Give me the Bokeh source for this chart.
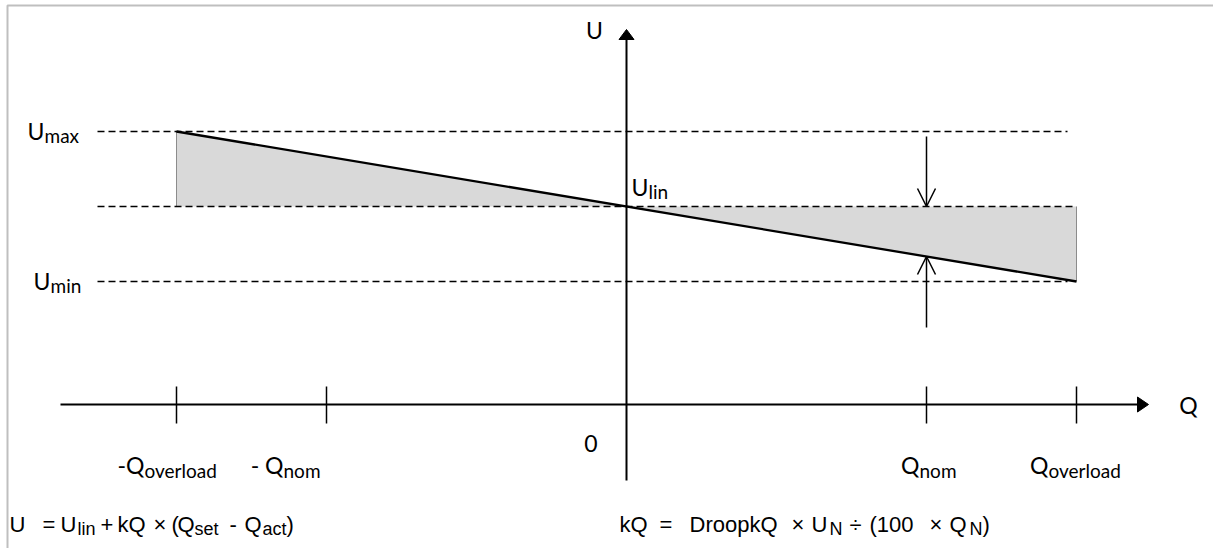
from bokeh.plotting import figure
from bokeh.models import Range1d, Arrow, OpenHead, ColumnDataSource
from bokeh.embed import file_html
from bokeh.resources import INLINE
from bokeh.core.properties import value

# ---------------- data ----------------
q_ticks = [-1.5, -1.0, 0.0, 1.0, 1.5]            # -Q_overload, -Q_nom, 0, Q_nom, Q_overload
q_tick_main = ["-Q", "- Q", "0", "Q", "Q"]
q_tick_sub = ["overload", "nom", "", "nom", "overload"]
u_levels = [1.1, 1.0, 0.9]                       # U_max, U_lin, U_min
u_names = ["max", "lin", "min"]
q_nom = 1.0
q_overload = 1.5
u_max, u_lin, u_min = 1.1, 1.0, 0.9
droop_q = [-q_overload, q_overload]
droop_u = [u_max, u_min]

formula1 = [("U", ""), ("=", ""), ("U", ""), ("lin", "sub"), ("+", ""), ("kQ", ""), ("×", ""),
            ("(", ""), ("Q", ""), ("set", "sub"), ("-", ""), ("Q", ""), ("act", "sub"), (")", "")]
formula2 = [("kQ", ""), ("=", ""), ("DroopkQ", ""), ("×", ""), ("U", ""), ("N", "sub"), ("÷", ""),
            ("(100", ""), ("×", ""), ("Q", ""), ("N", "sub"), (")", "")]

# ---------------- layout ----------------
W, H = 1213, 548
Q0_PX, U0_PX = 626, 206      # pixel of q = 0 and u = u_lin
SQ, SU = 300.0, 750.0        # pixels per data unit
TEXT_SHIFT = 10              # empirical baseline correction (px, upwards)


def qx(px):
    return (px - Q0_PX) / SQ


def uy(py):
    return u_lin + (U0_PX - py) / SU


p = figure(width=W, height=H, output_backend="svg", toolbar_location=None,
           x_range=Range1d(qx(0), qx(W)), y_range=Range1d(uy(H), uy(0)),
           min_border=0, outline_line_color=None)
p.axis.visible = False
p.grid.visible = False
p.background_fill_color = "white"

# border (top / left)
p.line([qx(7), qx(7), qx(1300)], [uy(600), uy(5), uy(5)], line_color="#bfbfbf", line_width=2)

# shaded deviation areas
p.patches([[-q_overload, -q_overload, 0], [0, q_overload, q_overload]],
          [[u_max, u_lin, u_lin], [u_lin, u_lin, u_min]],
          fill_color="#d9d9d9", line_color=None)
p.segment(x0=[-q_overload, q_overload], y0=[u_lin, u_lin], x1=[-q_overload, q_overload], y1=[u_max, u_min],
          line_color="#8c8c8c", line_width=1)

# dashed levels
dash_start = qx(97)
dash_ends = [qx(1067), q_overload, qx(1067)]
p.multi_line([[dash_start, e] for e in dash_ends], [[u, u] for u in u_levels],
             line_color="black", line_width=1.6, line_dash="7 4")

# droop line
p.line(droop_q, droop_u, line_color="black", line_width=2.3)

# Q axis
u_axis = uy(404)
p.line([qx(60), qx(1139)], [u_axis, u_axis], line_color="black", line_width=2)
p.patch([qx(1148), qx(1137), qx(1137)], [u_axis, u_axis + 7.5 / SU, u_axis - 7.5 / SU],
        fill_color="black", line_color="black", line_width=1)
tick_q = [q for q in q_ticks if q != 0]
p.segment(x0=tick_q, y0=[uy(386)] * len(tick_q), x1=tick_q, y1=[uy(423)] * len(tick_q),
          line_color="black", line_width=1.5)

# U axis
p.line([0, 0], [uy(480), uy(38)], line_color="black", line_width=2)
p.patch([0, -7.5 / SQ, 7.5 / SQ], [uy(29), uy(39), uy(39)],
        fill_color="black", line_color="black", line_width=1)

# deviation arrows at Q_nom
u_at_nom = u_lin - (u_lin - u_min) * q_nom / q_overload
p.add_layout(Arrow(end=OpenHead(size=18, line_color="black", line_width=1.5),
                   x_start=q_nom, y_start=uy(136), x_end=q_nom, y_end=u_lin,
                   line_color="black", line_width=1.5))
p.add_layout(Arrow(end=OpenHead(size=18, line_color="black", line_width=1.5),
                   x_start=q_nom, y_start=uy(327), x_end=q_nom, y_end=u_at_nom,
                   line_color="black", line_width=1.5))


def add_texts(xs, ys, texts, font, size, align):
    src = ColumnDataSource(dict(x=xs, y=[y + TEXT_SHIFT / SU for y in ys], text=texts))
    p.text(x="x", y="y", text="text", source=src, text_font=value(font),
           text_font_size=f"{size}px", text_align=align, text_baseline="alphabetic",
           text_color="black")


LATO = "Lato"
MAIN, SUB = 23, 19

# axis names
add_texts([0 - 32 / SQ], [uy(39)], ["U"], LATO, MAIN, "center")
add_texts([qx(1188)], [uy(414)], ["Q"], LATO, MAIN, "center")

# tick labels (junction between main and subscript relative to tick)
tick_dx = [-32, -43, -29, -7, -28]
tick_base = [474, 474, 453, 474, 474]
add_texts([q + d / SQ for q, d in zip(q_ticks, tick_dx)], [uy(b) for b in tick_base],
          q_tick_main, LATO, MAIN, "right")
add_texts([q + d / SQ for q, d, s in zip(q_ticks, tick_dx, q_tick_sub) if s],
          [uy(b + 6) for b, s in zip(tick_base, q_tick_sub) if s],
          [s for s in q_tick_sub if s], LATO, SUB, "left")

# level labels
lvl_jx = [qx(44), qx(648), qx(50)]
lvl_dy = [9, -10, 9]
add_texts(lvl_jx, [u - d / SU for u, d in zip(u_levels, lvl_dy)], ["U"] * 3, LATO, MAIN, "right")
add_texts(lvl_jx, [u - (d + 5) / SU for u, d in zip(u_levels, lvl_dy)], u_names, LATO, SUB, "left")

# formulas
ARIAL = "Liberation Sans"
f1_x = [9, 42, 60, 77, 100, 117, 153, 171, 177, 194, 229, 244, 262, 286]
f2_x = [619, 659, 689, 791, 811, 829, 849, 869, 929, 949, 969, 982]
base = 534
for toks, xs in ((formula1, f1_x), (formula2, f2_x)):
    mains = [(qx(x), t) for (t, k), x in zip(toks, xs) if k == ""]
    subs = [(qx(x), t) for (t, k), x in zip(toks, xs) if k == "sub"]
    add_texts([m[0] for m in mains], [uy(base)] * len(mains), [m[1] for m in mains], ARIAL, 22, "left")
    add_texts([s[0] for s in subs], [uy(base + 4)] * len(subs), [s[1] for s in subs], ARIAL, 18, "left")

open("out.html", "w").write(file_html(p, INLINE))
